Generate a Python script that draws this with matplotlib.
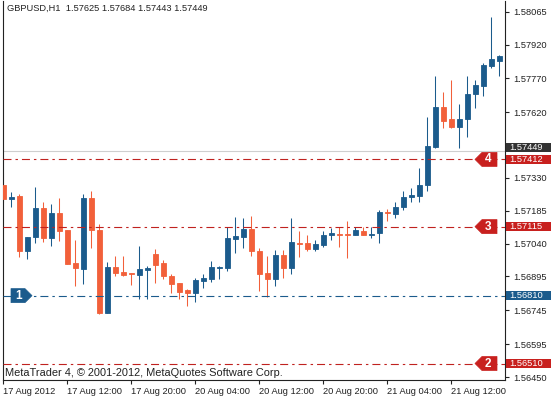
import matplotlib
matplotlib.use("Agg")
import matplotlib.pyplot as plt
import matplotlib.transforms as mtransforms
from matplotlib.patches import Rectangle, Polygon

# ---------------- data ----------------
opens = [1.57299, 1.57236, 1.57252, 1.57009, 1.57068, 1.57196, 1.57066, 1.57177, 1.57100, 1.56954,
         1.56929, 1.57243, 1.57100, 1.56735, 1.56938, 1.56916, 1.56910, 1.56903, 1.56923, 1.56994,
         1.56954, 1.56897, 1.56866, 1.56836, 1.56823, 1.56876, 1.56884, 1.56932, 1.56933, 1.57062,
         1.57071, 1.57103, 1.57009, 1.56909, 1.56885, 1.56990, 1.56933, 1.57044, 1.57041, 1.57015,
         1.57035, 1.57077, 1.57084, 1.57084, 1.57079, 1.57097, 1.57078, 1.57085, 1.57178, 1.57173,
         1.57201, 1.57244, 1.57252, 1.57299, 1.57468, 1.57642, 1.57591, 1.57557, 1.57589, 1.57700,
         1.57738, 1.57826, 1.57848]
highs = [1.57351, 1.57268, 1.57259, 1.57069, 1.57292, 1.57224, 1.57215, 1.57243, 1.57102, 1.57056,
         1.57259, 1.57273, 1.57127, 1.56959, 1.56985, 1.56985, 1.56910, 1.57029, 1.56942, 1.57016,
         1.56968, 1.56906, 1.56866, 1.56841, 1.56889, 1.56906, 1.56963, 1.56941, 1.57115, 1.57156,
         1.57154, 1.57163, 1.57022, 1.56985, 1.57012, 1.57012, 1.57152, 1.57094, 1.57078, 1.57055,
         1.57094, 1.57109, 1.57115, 1.57140, 1.57115, 1.57115, 1.57115, 1.57187, 1.57191, 1.57225,
         1.57274, 1.57284, 1.57374, 1.57601, 1.57781, 1.57711, 1.57763, 1.57657, 1.57781, 1.57763,
         1.57837, 1.58040, 1.57874]
lows = [1.57225, 1.57202, 1.56982, 1.56972, 1.57044, 1.57048, 1.57031, 1.57051, 1.56949, 1.56854,
        1.56863, 1.57022, 1.56729, 1.56733, 1.56897, 1.56897, 1.56857, 1.56795, 1.56795, 1.56865,
        1.56882, 1.56823, 1.56796, 1.56766, 1.56783, 1.56842, 1.56872, 1.56884, 1.56919, 1.56997,
        1.57019, 1.56987, 1.56832, 1.56805, 1.56854, 1.56889, 1.56906, 1.56982, 1.57007, 1.57007,
        1.57026, 1.57055, 1.57026, 1.56976, 1.57077, 1.57077, 1.57063, 1.57044, 1.57142, 1.57151,
        1.57189, 1.57225, 1.57225, 1.57274, 1.57461, 1.57550, 1.57550, 1.57461, 1.57510, 1.57638,
        1.57692, 1.57815, 1.57781]
closes = [1.57236, 1.57245, 1.57009, 1.57068, 1.57196, 1.57066, 1.57177, 1.57097, 1.56951, 1.56933,
          1.57243, 1.57100, 1.56735, 1.56935, 1.56911, 1.56901, 1.56904, 1.56928, 1.56933, 1.56944,
          1.56895, 1.56863, 1.56827, 1.56823, 1.56879, 1.56888, 1.56938, 1.56938, 1.57065, 1.57074,
          1.57103, 1.57007, 1.56906, 1.56884, 1.56990, 1.56933, 1.57046, 1.57040, 1.57017, 1.57037,
          1.57077, 1.57085, 1.57077, 1.57079, 1.57100, 1.57079, 1.57081, 1.57180, 1.57175, 1.57200,
          1.57245, 1.57255, 1.57299, 1.57471, 1.57642, 1.57583, 1.57557, 1.57591, 1.57700, 1.57741,
          1.57829, 1.57856, 1.57869]

x_tick_pos = [0, 8, 16, 24, 32, 40, 48, 56]
x_tick_labels = ["17 Aug 2012", "17 Aug 12:00", "17 Aug 20:00", "20 Aug 04:00",
                 "20 Aug 12:00", "20 Aug 20:00", "21 Aug 04:00", "21 Aug 12:00"]
y_ticks = [1.58065, 1.57920, 1.57770, 1.57620, 1.57475, 1.57330,
           1.57185, 1.57040, 1.56895, 1.56745, 1.56595, 1.56450]

level_names = ["4", "3", "1", "2"]
level_prices = [1.57412, 1.57115, 1.56810, 1.56510]
bid_price = 1.57449
header = "GBPUSD,H1  1.57625 1.57684 1.57443 1.57449"
footer = "MetaTrader 4, \u00a9 2001-2012, MetaQuotes Software Corp."

# ---------------- style ----------------
BULL = "#1b5b8c"
BEAR = "#f2603a"
RED_LINE = "#c0221f"
RED_BOX = "#c8201e"
BLUE_LINE = "#1b5b8c"
FONT = "Liberation Sans"
plt.rcParams["font.family"] = [FONT, "DejaVu Sans"]

W, H = 552, 396
fig = plt.figure(figsize=(W / 100, H / 100), dpi=100)
ax = fig.add_axes([3 / W, 16 / H, 502 / W, 379 / H])

Y_TOP, Y_BOT = 1.581123, 1.564371
PX = (Y_TOP - Y_BOT) / 379.0   # price per pixel
ax.set_ylim(Y_BOT, Y_TOP)
ax.set_xlim(-0.04, 62.7)

# candles
for i, (o, h, l, c) in enumerate(zip(opens, highs, lows, closes)):
    col = BULL if c >= o else BEAR
    ax.vlines(i, l, h, color=col, lw=0.75, zorder=2)
    ax.bar(i, abs(c - o), bottom=min(o, c), width=0.56, color=col,
           edgecolor=col, linewidth=0.6, zorder=3)

# bid line
ax.axhline(bid_price, color="#cfcfcf", lw=0.8, zorder=1)

# level lines
dash = (0, (7.2, 3.6, 2.2, 3.6))
for name, p in zip(level_names, level_prices):
    col = BLUE_LINE if name == "1" else RED_LINE
    ax.axhline(p, color=col, lw=0.8, linestyle=dash, zorder=4)

# axes style
for s in ["top"]:
    ax.spines[s].set_visible(False)
for s in ["left", "right", "bottom"]:
    ax.spines[s].set_color("#222222")
    ax.spines[s].set_linewidth(0.8)
ax.yaxis.tick_right()
ax.set_yticks(y_ticks)
ax.set_yticklabels(["%.5f" % v for v in y_ticks])
ax.set_xticks(x_tick_pos)
ax.set_xticklabels(x_tick_labels, ha="left")
ax.tick_params(axis="y", direction="out", length=3, width=0.8, pad=3,
               labelsize=6.7, colors="#222222")
ax.tick_params(axis="x", direction="out", length=3, width=0.8, pad=2,
               labelsize=6.7, colors="#222222")

# right-hand price boxes
bt = mtransforms.blended_transform_factory(fig.transFigure, ax.transData)
boxes = [(bid_price, bid_price + 3.5 * PX, "#333333")]
for name, p in zip(level_names, level_prices):
    boxes.append((p, p, BLUE_LINE if name == "1" else RED_BOX))
for val, yc, col in boxes:
    ax.add_patch(Rectangle((505.5 / W, yc - 4.8 * PX), 45 / W, 9.6 * PX,
                           transform=bt, facecolor=col, edgecolor="none",
                           clip_on=False, zorder=20))
    ax.text(509.5 / W, yc, "%.5f" % val, transform=bt, ha="left", va="center",
            fontsize=6.7, color="white", clip_on=False, zorder=21)

# level markers
for name, p in zip(level_names, level_prices):
    if name == "1":
        x0, x1, tip = 11, 32, 25
        verts = [(x0 / W, p - 7 * PX), (tip / W, p - 7 * PX), (x1 / W, p),
                 (tip / W, p + 7 * PX), (x0 / W, p + 7 * PX)]
        col = BLUE_LINE
        xc = 19
    else:
        x0, x1, tip = 475, 497, 482
        verts = [(x0 / W, p), (tip / W, p + 7 * PX), (x1 / W, p + 7 * PX),
                 (x1 / W, p - 7 * PX), (tip / W, p - 7 * PX)]
        col = RED_BOX
        xc = 488
    ax.add_patch(Polygon(verts, closed=True, transform=bt, facecolor=col,
                         edgecolor=col, lw=0.5, joinstyle="round",
                         clip_on=False, zorder=22))
    ax.text(xc / W, p, name, transform=bt, ha="center", va="center",
            fontsize=8.5, fontweight="bold", color="white", zorder=23,
            clip_on=False)

# header and footer
fig.text(7 / W, 1 - 8.5 / H, header, ha="left", va="center", fontsize=6.7,
         color="#222222")
fig.text(5 / W, 1 - 372.5 / H, footer, ha="left", va="center", fontsize=7.9,
         color="#222222")

fig.savefig("out.png", dpi=100)
